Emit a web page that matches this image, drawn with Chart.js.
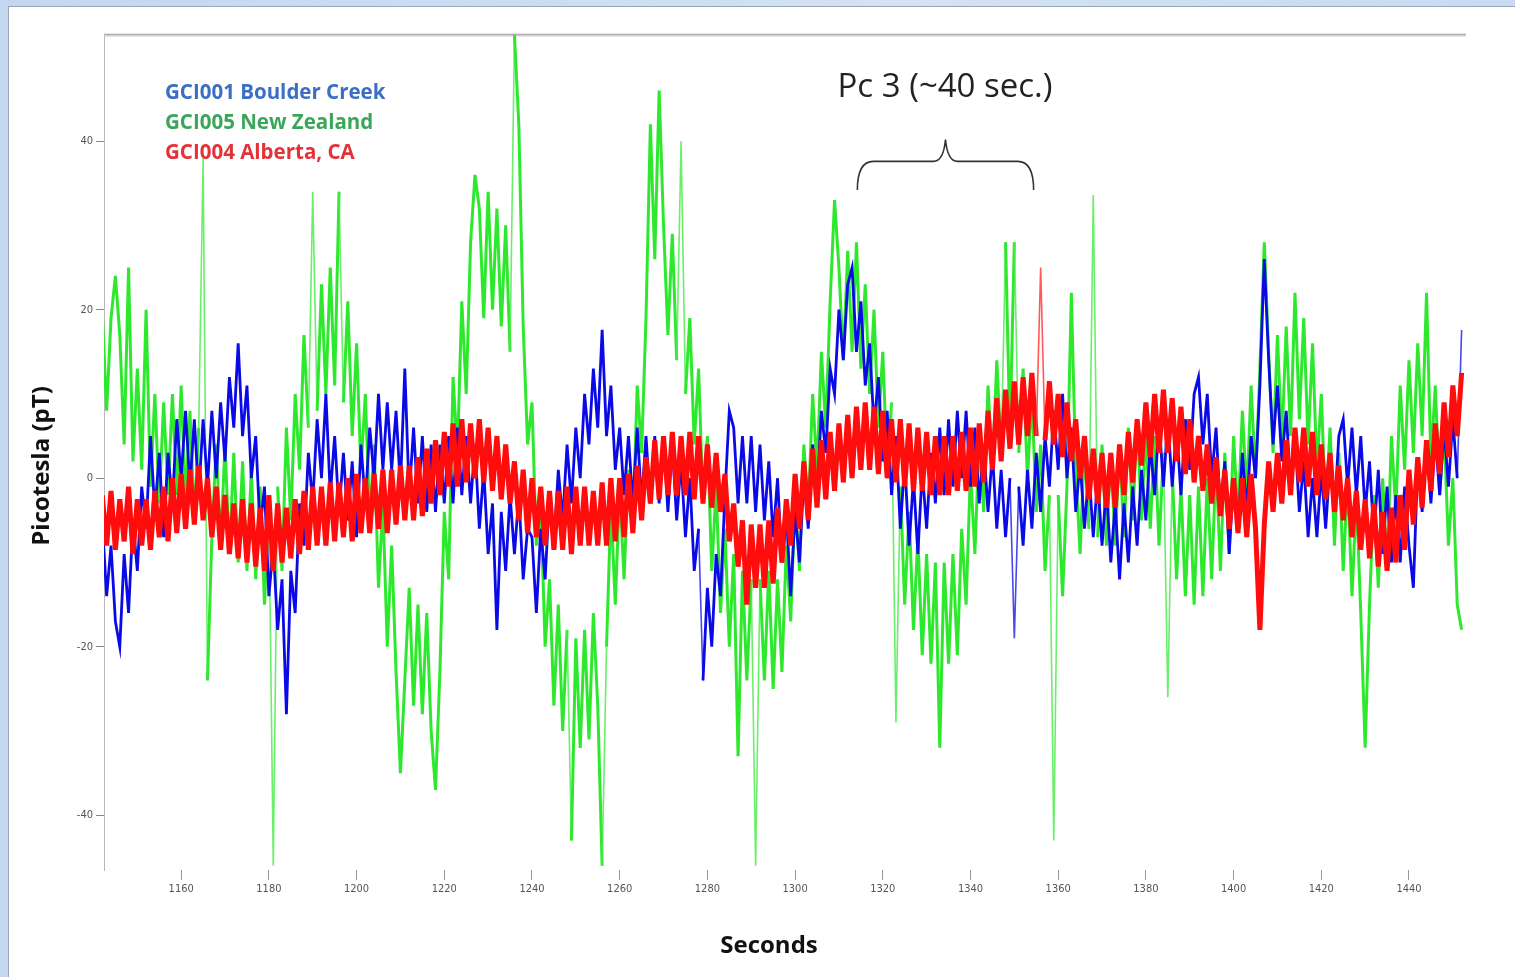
<!DOCTYPE html>
<html>
<head>
<meta charset="utf-8">
<script src="https://cdn.jsdelivr.net/npm/chart.js@4.4.1/dist/chart.umd.min.js"></script>
<style>
  html, body { margin: 0; padding: 0; width: 1515px; height: 977px; overflow: hidden;
    background: linear-gradient(90deg, #c3d7ef 0%, #d3e2f4 60%, #c9dbf1 100%); }
  #panel { position: absolute; left: 8px; top: 6px; right: 0; bottom: 0; background: #ffffff;
    border-top: 1px solid #9aa6b6; border-left: 1px solid #9aa6b6; }
  #wrap { position: absolute; left: 0; top: 0; width: 1515px; height: 977px; }
</style>
</head>
<body>
<div id="panel"></div>
<div id="wrap"><canvas id="c" width="1515" height="977"></canvas></div>
<script>
// ---- data (one sample per second, starting at T_START) ----
const T_START = 1142;
const seriesNames = ['GCI001 Boulder Creek', 'GCI005 New Zealand', 'GCI004 Alberta, CA'];
const xTicks = [1160, 1180, 1200, 1220, 1240, 1260, 1280, 1300, 1320, 1340, 1360, 1380, 1400, 1420, 1440];
const yTicks = [-40, -20, 0, 20, 40];
const annotationText = 'Pc 3 (~40 sec.)';
const braceRange = [1314.2, 1354.4];

const boulderCreek = [
  -5, -14, -8, -17, -20, -9, -16, -5, -11, -1,
  -6, 5, -4, 3, -7, 3, -3, 7, 0, 8,
  -1, 7, -2, 7, -1, 8, 0, 9, 2, 12,
  6, 16, 5, 11, 0, 5, -6, -1, -14, -8,
  -18, -12, -28, -11, -16, -3, -8, 3, -3, 7,
  0, 10, -2, 5, -4, 3, -5, 2, -7, 4,
  -3, 6, 0, 10, 1, 9, 1, 8, -1, 13,
  -2, 6, -3, 5, -4, 4, -4, 4, -3, 5,
  -3, 6, -2, 5, -3, 4, -6, 1, -9, -3,
  -18, -4, -11, -2, -9, -2, -12, -6, -7, -16,
  -6, -12, -2, -8, 1, -5, 4, -3, 6, 0,
  10, 4, 13, 6, 17.6, 5, 11, 1, 6, -2,
  5, -3, 6, -3, 5, -3, 5, -3, 5, -4,
  4, -5, 2, -7, 0, -11, -6, -24, -13, -20,
  -9, -14, -2, 8, 6, -3, 5, -3, 5, -4,
  4, -5, 2, -7, 0, -10, -4, -14, -4, -10,
  0, -6, 4, -2, 8, 3, 13, 10, 20, 14,
  23, 25, 15, 21, 11, 16, 6, 12, 2, 8,
  -2, 5, -6, 2, -8, 0, -9, 1, -6, 3,
  -3, 6, -2, 7, -1, 8, 0, 8, -1, 6,
  -3, 4, -4, 3, -6, 1, -7, 0, -19, -1,
  -8, 1, -6, 3, -4, 5, -1, 8, 1, 10,
  0, 6, -4, 2, -6, 1, -7, 0, -8, -1,
  -10, -3, -12, -3, -10, -1, -8, 1, -5, 4,
  -2, 7, -1, 7, -1, 6, -2, 7, 1, 10,
  12, 4, 10, 0, 6, -4, 2, -9, 0, -6,
  3, -4, 5, 0, 11, 26, 14, 4, 11, 2,
  8, -1, 5, -4, 2, -7, 0, -7, 1, -6,
  2, -4, 5, 7, -1, 6, -2, 5, -4, 2,
  -7, 1, -9, -1, -10, -2, -10, -1, -8, -13,
  2, -4, 4, -3, 5, -2, 6, -1, 7, 0,
  17.6
];

const newZealand = [
  20, 8, 19, 24, 17, 4, 25, 2, 13, 1,
  20, -1, 10, -3, 9, -2, 10, -2, 11, -3,
  8, -5, 6, 38, -24, -7, 4, -8, 4, -9,
  3, -10, 2, -11, 1, -12, -1, -15, -3, -46,
  -1, -11, 6, -5, 10, 1, 17, 6, 34, 8,
  23, 10, 25, 11, 34, 9, 21, 5, 16, 1,
  10, -5, 4, -13, -3, -20, -8, -23, -35, -24,
  -13, -27, -15, -28, -16, -30, -37, -23, -4, -12,
  12, 3, 21, 10, 28, 36, 32, 19, 34, 20,
  32, 18, 30, 15, 52.6, 42, 18, 4, 9, -8,
  -3, -20, -12, -27, -15, -30, -18, -43, -19, -32,
  -18, -31, -16, -27, -46, -20, -3, -15, -1, -12,
  1, -6, 11, 3, 19, 42, 26, 46, 30, 17,
  29, 14, 40, 10, 19, 4, 13, -3, 5, -11,
  -1, -16, -6, -20, -9, -33, -11, -24, -12, -46,
  -12, -24, -11, -25, -12, -23, -8, -17, -2, -11,
  4, -4, 10, 1, 15, 6, 21, 33, 25, 14,
  27, 15, 28, 13, 23, 10, 20, 6, 15, 1,
  9, -29, -1, -15, -4, -18, -7, -21, -9, -22,
  -10, -32, -10, -22, -9, -21, -6, -15, 1, -9,
  5, -4, 11, 1, 14, 3, 28, 5, 28, 3,
  13, 0, 10, -4, 4, -11, -2, -43, -2, -14,
  -1, 22, 1, -9, 4, -6, 33.6, -7, 4, -8,
  3, -8, 4, -7, 6, -5, 7, -5, 6, -6,
  5, -8, 3, -26, 1, -12, -1, -14, -2, -15,
  -1, -14, 0, -12, 2, -11, 3, -9, 5, -5,
  8, -2, 11, 0, 13, 28, 15, 3, 17, 4,
  18, 5, 22, 7, 19, 4, 16, 1, 10, -4,
  6, -8, 3, -11, 0, -14, -2, -16, -32, -15,
  -2, -13, 0, -11, 5, -4, 11, 1, 14, 3,
  16, 5, 22, 2, 11, -2, 6, -8, 0, -15,
  -18
];

const alberta = [
  -2, -8, -1.5, -8.5, -2.5, -7.5, -1, -9, -2.5, -8,
  -2.5, -8.5, -1.5, -7, -1, -7.5, 0, -6.5, 0.5, -6,
  1, -5.5, 1.5, -5, 0, -7, -1, -8.5, -2, -9,
  -3, -9.5, -2.5, -10, -3, -10.5, -3.5, -11, -2, -11,
  -3, -10, -3.5, -9.5, -2.5, -9, -1.5, -8.5, -1, -8,
  -1, -8, -0.5, -7.5, -0.5, -7, 0, -7.5, 0.5, -6.5,
  0, -6.5, 0.5, -6, 1, -6.5, 1, -5.5, 1.5, -5,
  1.5, -5, 2.5, -4.5, 3.5, -3, 4.5, -2, 5.5, -1,
  6.5, -1, 7, -0.5, 6.5, 0, 7, -0.5, 6, -1.5,
  5, -2.5, 4, -3, 2, -5, 1, -6.5, 0, -7,
  -1, -8, -1.5, -8.5, -1.5, -8.5, -1, -9, -1, -8,
  -1, -8, -1.5, -8, -0.5, -8, 0, -7.5, 0, -7,
  0.5, -6.5, 1.5, -5, 2.5, -3, 4.5, -2.5, 5, -2,
  5.5, -2, 5, -2, 5.5, -2.5, 5, -3, 4, -3.5,
  3, -4, 0.5, -7.5, -3, -10.5, -5, -15, -5.5, -13,
  -5.5, -13, -5, -12.5, -3.5, -10, -2.5, -8, 0.5, -6,
  2, -5, 3.5, -3.5, 4.5, -2.5, 5.5, -1.5, 6.5, -0.5,
  7.5, 0, 8.5, 1, 9, 1, 8.5, 0.5, 8, 0,
  7, -0.5, 7, -1, 6.5, -1.5, 6, -1.5, 5.5, -2,
  5, -2, 5, -2, 5, -1.5, 5.5, -1.5, 6, -1,
  6.5, -0.5, 8, 1, 9.5, 2, 10.5, 3.5, 11.5, 4,
  12, 5, 12.5, 5, 25, 4.5, 11.5, 4, 10, 2.5,
  9, 2, 7, 0, 5, -2.5, 3.5, -3, 3, -3.5,
  3, -3.5, 4, -2, 5.5, -0.5, 7, 1.5, 9, 2.5,
  10, 3, 10.5, 3, 9.5, 2, 8.5, 0.5, 7, -0.5,
  5, -1.5, 4, -3, 2.5, -4.5, 1, -6, 0, -6.5,
  0, -7, 0.5, -6, -18, -5.5, 2, -4, 3, -3,
  4.5, -2, 6, -0.5, 6, -1, 5.5, -2, 4, -2.5,
  3, -4, 1.5, -5, 0, -7, -1.5, -8.5, -2.5, -9.5,
  -3, -10.5, -4, -11, -3.5, -10, -2, -8.5, 1, -5.5,
  2.5, -3.5, 4.5, -1.5, 6.5, 0.5, 9, 2.5, 11, 5,
  12.5
];

const seriesColors = ['#0a0ae6', '#2ee82e', '#ff0d0d'];
const spikeColors = ['rgba(10,10,230,0.75)', 'rgba(70,235,70,0.8)', 'rgba(255,60,60,0.85)'];
const legendColors = ['#3b6fc4', '#3aa65a', '#e43338'];

function toPoints(arr) { return arr.map((v, i) => ({ x: T_START + i, y: v })); }

// thinner strokes for isolated spikes (large jumps), like the thin spikes of the original
function spikeSegment(idx, base, thin, jump) {
  return {
    borderWidth: c => (Math.abs(c.p1.parsed.y - c.p0.parsed.y) > jump ? thin : base),
    borderColor: c => (Math.abs(c.p1.parsed.y - c.p0.parsed.y) > jump ? spikeColors[idx] : seriesColors[idx])
  };
}

const overlay = {
  id: 'overlay',
  beforeDatasetsDraw(chart) {
    const { ctx, chartArea: a } = chart;
    ctx.save();
    ctx.strokeStyle = '#d0d0d0';
    ctx.lineWidth = 3;
    ctx.beginPath(); ctx.moveTo(a.left, a.top); ctx.lineTo(a.right, a.top); ctx.stroke();
    ctx.strokeStyle = '#b0b0b0';
    ctx.lineWidth = 1;
    ctx.beginPath(); ctx.moveTo(a.left, a.top - 0.5); ctx.lineTo(a.right, a.top - 0.5); ctx.stroke();
    ctx.restore();
  },
  afterDraw(chart) {
    const { ctx, scales } = chart;
    const xs = scales.x, ys = scales.y;
    ctx.save();
    // legend text
    ctx.font = 'bold 20.5px "Open Sans", Lato, sans-serif';
    ctx.textBaseline = 'middle';
    ctx.textAlign = 'left';
    seriesNames.forEach((n, i) => {
      ctx.fillStyle = legendColors[i];
      ctx.fillText(n, 165, 93 + i * 30);
    });
    // annotation text
    ctx.fillStyle = '#222';
    ctx.font = '33px "Open Sans", Lato, sans-serif';
    ctx.textAlign = 'center';
    ctx.fillText(annotationText, 945, 88);
    // brace
    const xl = xs.getPixelForValue(braceRange[0]);
    const xr = xs.getPixelForValue(braceRange[1]);
    const xm = (xl + xr) / 2;
    const yEnd = ys.getPixelForValue(34.2);
    const yMid = ys.getPixelForValue(37.6);
    const yTip = ys.getPixelForValue(40.2);
    ctx.strokeStyle = '#333';
    ctx.lineWidth = 1.6;
    ctx.beginPath();
    ctx.moveTo(xl, yEnd);
    ctx.quadraticCurveTo(xl, yMid, xl + 16, yMid);
    ctx.lineTo(xm - 12, yMid);
    ctx.quadraticCurveTo(xm - 2, yMid, xm, yTip);
    ctx.quadraticCurveTo(xm + 2, yMid, xm + 12, yMid);
    ctx.lineTo(xr - 16, yMid);
    ctx.quadraticCurveTo(xr, yMid, xr, yEnd);
    ctx.stroke();
    // axis titles
    ctx.fillStyle = '#111';
    ctx.font = 'bold 24px "Open Sans", Lato, sans-serif';
    ctx.textAlign = 'center';
    ctx.fillText('Seconds', 769, 946);
    ctx.translate(42, 466);
    ctx.rotate(-Math.PI / 2);
    ctx.fillText('Picotesla (pT)', 0, 0);
    ctx.restore();
  }
};

const tickFont = { family: '"Liberation Sans Narrow", "DejaVu Sans Condensed", Arial, sans-serif', size: 11 };

new Chart(document.getElementById('c'), {
  type: 'line',
  data: {
    datasets: [
      { label: seriesNames[2], data: toPoints(alberta), borderColor: seriesColors[2], borderWidth: 5, order: 0,
        segment: spikeSegment(2, 5, 1.6, 15) },
      { label: seriesNames[0], data: toPoints(boulderCreek), borderColor: seriesColors[0], borderWidth: 2.8, order: 1,
        segment: spikeSegment(0, 2.8, 1.6, 17) },
      { label: seriesNames[1], data: toPoints(newZealand), borderColor: seriesColors[1], borderWidth: 3, order: 2,
        segment: spikeSegment(1, 3, 1.6, 24) }
    ]
  },
  options: {
    responsive: false,
    animation: false,
    events: [],
    elements: { point: { radius: 0 }, line: { tension: 0, borderJoinStyle: 'miter' } },
    layout: { padding: { left: 0, top: 35, right: 49, bottom: 0 } },
    plugins: { legend: { display: false }, tooltip: { enabled: false } },
    scales: {
      x: {
        type: 'linear', min: 1142.4, max: 1453,
        afterBuildTicks: s => { s.ticks = xTicks.map(v => ({ value: v })); },
        afterFit: s => { s.height = 107; },
        border: { display: false },
        grid: { drawOnChartArea: false, color: '#999', tickLength: 10, tickWidth: 1 },
        ticks: { autoSkip: false, maxRotation: 0, color: '#555', font: tickFont, padding: 3,
                 callback: v => String(v) }
      },
      y: {
        type: 'linear', min: -46.5, max: 52.6,
        afterBuildTicks: s => { s.ticks = yTicks.map(v => ({ value: v })); },
        afterFit: s => { s.width = 104; },
        border: { display: true, color: '#b8b8b8', width: 1 },
        grid: { drawOnChartArea: false, color: '#888', tickLength: 8, tickWidth: 1 },
        ticks: { color: '#555', font: tickFont, padding: 3, callback: v => String(v) }
      }
    }
  },
  plugins: [overlay]
});
</script>
</body>
</html>
